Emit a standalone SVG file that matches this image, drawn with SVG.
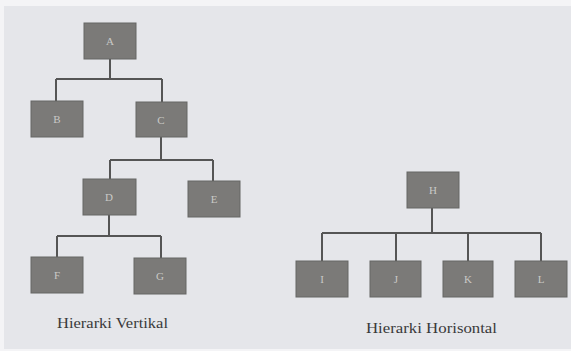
<svg xmlns="http://www.w3.org/2000/svg" width="571" height="351" viewBox="0 0 571 351">
<style>
.n rect{fill:#7b7a78;stroke:#666664;stroke-width:1}
.n text{font-family:"Liberation Serif",serif;font-size:11px;fill:#c9c9c6;text-anchor:middle}
.c path{fill:none;stroke:#555555;stroke-width:2}
.cap{font-family:"Liberation Serif",serif;font-size:15px;fill:#3a3a3a}
</style>
<rect x="0" y="0" width="571" height="351" fill="#f4f4f6"/>
<rect x="4" y="6" width="567" height="343" fill="#e5e6ea"/>
<g class="c">
<path d="M110,59V79M56,79H162M56,79V101M162,79V102"/>
<path d="M161,137V160M110,160H213M110,160V179M213,160V181"/>
<path d="M109,215V236M57,236H161M57,236V257M161,236V258"/>
<path d="M432,208V233M322,233H541M322,233V261M396,233V261M468,233V261M541,233V261"/>
</g>
<g id="A" class="n"><rect x="84" y="23" width="52" height="36"/><text x="110" y="45">A</text></g>
<g id="B" class="n"><rect x="31" y="101" width="52" height="36"/><text x="57" y="123">B</text></g>
<g id="C" class="n"><rect x="136" y="102" width="51" height="35"/><text x="161" y="124">C</text></g>
<g id="D" class="n"><rect x="83" y="179" width="53" height="36"/><text x="109" y="201">D</text></g>
<g id="E" class="n"><rect x="188" y="181" width="52" height="36"/><text x="214" y="203">E</text></g>
<g id="F" class="n"><rect x="31" y="257" width="52" height="36"/><text x="57" y="279">F</text></g>
<g id="G" class="n"><rect x="134" y="258" width="52" height="36"/><text x="160" y="280">G</text></g>
<g id="H" class="n"><rect x="407" y="172" width="52" height="36"/><text x="433" y="194">H</text></g>
<g id="I" class="n"><rect x="296" y="261" width="52" height="36"/><text x="322" y="283">I</text></g>
<g id="J" class="n"><rect x="370" y="261" width="51" height="36"/><text x="396" y="283">J</text></g>
<g id="K" class="n"><rect x="443" y="261" width="50" height="36"/><text x="468" y="283">K</text></g>
<g id="L" class="n"><rect x="515" y="261" width="52" height="36"/><text x="541" y="283">L</text></g>
<text class="cap" x="57" y="328" textLength="111" lengthAdjust="spacingAndGlyphs">Hierarki Vertikal</text>
<text class="cap" x="366" y="333" textLength="131" lengthAdjust="spacingAndGlyphs">Hierarki Horisontal</text>
</svg>
